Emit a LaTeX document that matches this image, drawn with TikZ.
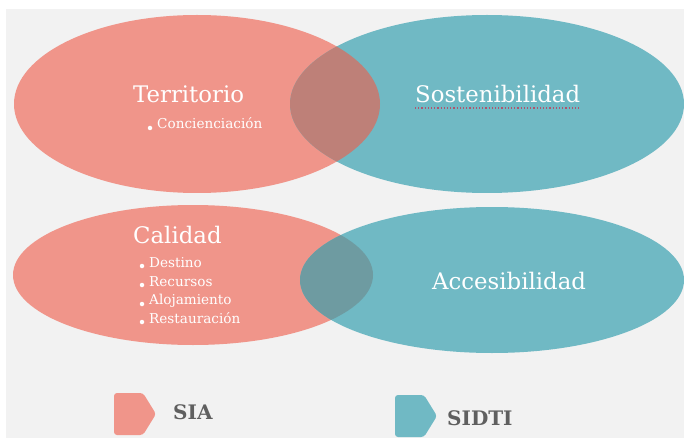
\documentclass[tikz,border=0pt]{standalone}
\usepackage{fontspec}
\setmainfont{DejaVu Serif}
\definecolor{pinkc}{RGB}{240,149,138}
\definecolor{tealc}{RGB}{112,185,196}
\definecolor{lenstop}{RGB}{190,128,120}
\definecolor{lensbot}{RGB}{110,155,161}
\definecolor{bgc}{RGB}{242,242,242}
\definecolor{legtext}{RGB}{95,95,95}
\definecolor{squig}{RGB}{175,85,110}
\tikzset{
  bigtxt/.style={text=white, font=\fontsize{22.8}{27}\selectfont, inner sep=0pt, anchor=base west},
  smalltxt/.style={text=white, font=\fontsize{13.6}{16}\selectfont, inner sep=0pt, anchor=base west},
  legtxt/.style={text=legtext, font=\fontsize{20}{24}\selectfont\bfseries, inner sep=0pt, anchor=base west},
  bulletdot/.style={fill=white, circle, inner sep=0pt, minimum size=4.5pt},
}
\begin{document}
\begin{tikzpicture}[x=1pt,y=-1pt]
\useasboundingbox (0,0) rectangle (684,438);
\fill[white] (0,0) rectangle (684,438);
\fill[bgc] (6,9) rectangle (684,438);
% top ellipses
\fill[pinkc] (197,104) ellipse [x radius=183pt, y radius=89pt];
\fill[tealc] (487,104) ellipse [x radius=197pt, y radius=89pt];
\begin{scope}
\clip (197,104) ellipse [x radius=183pt, y radius=89pt];
\fill[lenstop] (487,104) ellipse [x radius=197pt, y radius=89pt];
\end{scope}
% bottom ellipses
\fill[pinkc] (193,275) ellipse [x radius=180pt, y radius=70pt];
\fill[tealc] (492,280) ellipse [x radius=192pt, y radius=73pt];
\begin{scope}
\clip (193,275) ellipse [x radius=180pt, y radius=70pt];
\fill[lensbot] (492,280) ellipse [x radius=192pt, y radius=73pt];
\end{scope}
% texts
\node[bigtxt] (terr) at (133,103) {Territorio};
\node[smalltxt] (conc) at (157,129) {Concienciación};
\node[bulletdot] (b0) at (150,128) {};
\node[bigtxt] (sost) at (415,103) {Sostenibilidad};
\draw[squig, line width=1.2pt, dotted] ([yshift=-5pt]sost.base west) -- ([yshift=-5pt]sost.base east);
\node[bigtxt] (cal) at (133,243) {Calidad};
\node[smalltxt] (d1) at (149,267) {Destino};
\node[smalltxt] (d2) at (149,286) {Recursos};
\node[smalltxt] (d3) at (149,304) {Alojamiento};
\node[smalltxt] (d4) at (149,323) {Restauración};
\node[bulletdot] (b1) at (142,266) {};
\node[bulletdot] (b2) at (142,285) {};
\node[bulletdot] (b3) at (142,304) {};
\node[bulletdot] (b4) at (142,322) {};
\node[bigtxt] (acc) at (432,289) {Accesibilidad};
% legend
\fill[pinkc, rounded corners=3pt] (114,393) -- (143,393) -- (156,414) -- (143,435) -- (114,435) -- cycle;
\node[legtxt] (sia) at (173,419) {SIA};
\fill[tealc, rounded corners=3pt] (395,395) -- (424,395) -- (437,416) -- (424,437) -- (395,437) -- cycle;
\node[legtxt] (sidti) at (447,425) {SIDTI};
\end{tikzpicture}
\end{document}
